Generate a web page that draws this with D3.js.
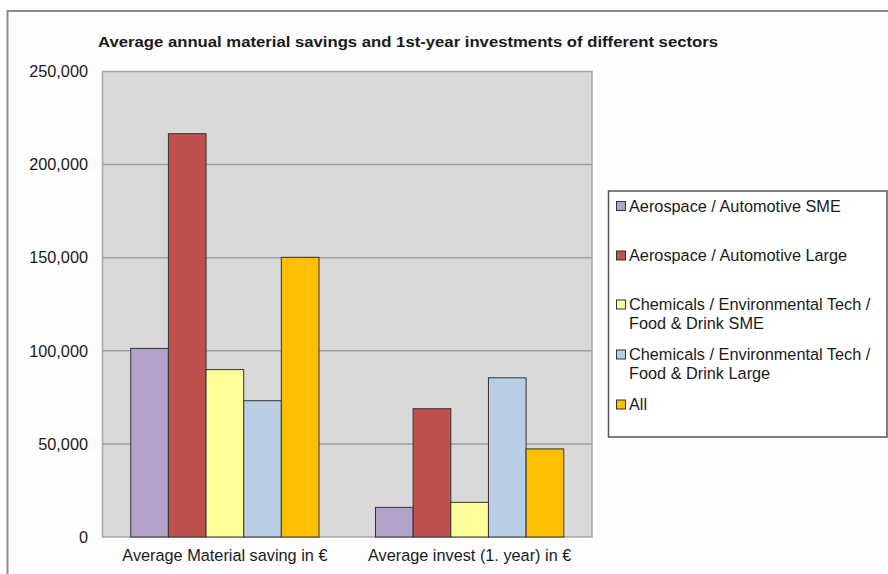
<!DOCTYPE html>
<html>
<head>
<meta charset="utf-8">
<script src="https://cdn.jsdelivr.net/npm/d3@7"></script>
<style>
  html, body { margin: 0; padding: 0; background: #ffffff; }
  svg { display: block; }
  text { font-family: "Liberation Sans", Arial, sans-serif; fill: #1a1a1a; }
</style>
</head>
<body>
<svg id="chart" width="888" height="574"></svg>
<script>
// Chart data
const categories = ["Average Material saving in \u20ac", "Average invest (1. year) in \u20ac"];
const seriesNames = [
  "Aerospace / Automotive SME",
  "Aerospace / Automotive Large",
  "Chemicals / Environmental Tech / Food & Drink SME",
  "Chemicals / Environmental Tech / Food & Drink Large",
  "All"
];
const legendLines = [
  ["Aerospace / Automotive SME"],
  ["Aerospace / Automotive Large"],
  ["Chemicals / Environmental Tech /", "Food & Drink SME"],
  ["Chemicals / Environmental Tech /", "Food & Drink Large"],
  ["All"]
];
// values per series: [material saving, 1st-year invest]
const aeroSME    = [101300, 15900];
const aeroLarge  = [216600, 68900];
const chemSME    = [89900, 18600];
const chemLarge  = [73200, 85500];
const allSectors = [150200, 47300];
const seriesValues = [aeroSME, aeroLarge, chemSME, chemLarge, allSectors];
const seriesColors = ["#b3a2c7", "#c0504d", "#ffff99", "#b9cde5", "#ffc000"];
const yTicks = [0, 50000, 100000, 150000, 200000, 250000];
const titleText = "Average annual material savings and 1st-year investments of different sectors";

const labelSize = 16.3;
const svg = d3.select("#chart");

// outer chart frame
svg.append("rect")
  .attr("x", 7.5).attr("y", 11)
  .attr("width", 900).attr("height", 600)
  .attr("fill", "#fdfdfd")
  .attr("stroke", "#8a8a8a").attr("stroke-width", 2);

// title
svg.append("text")
  .attr("x", 98).attr("y", 47)
  .attr("font-size", 15).attr("font-weight", "bold")
  .attr("textLength", 620).attr("lengthAdjust", "spacingAndGlyphs")
  .text(titleText);

const plot = { left: 102.5, top: 71.5, right: 592, bottom: 537 };

const x0 = d3.scaleBand()
  .domain(d3.range(categories.length))
  .range([plot.left, plot.right])
  .paddingInner(0).paddingOuter(0);

// bars occupy 5 of 6.5 slots in each category (150% gap)
const groupWidth = x0.bandwidth() * 5 / 6.5;
const x1 = d3.scaleBand()
  .domain(d3.range(seriesNames.length))
  .range([0, groupWidth]);

const y = d3.scaleLinear().domain([0, 250000]).range([plot.bottom, plot.top]);

// plot background
svg.append("rect")
  .attr("x", plot.left).attr("y", plot.top)
  .attr("width", plot.right - plot.left).attr("height", plot.bottom - plot.top)
  .attr("fill", "#d9d9d9")
  .attr("stroke", "#a6a6a6").attr("stroke-width", 1.5);

// gridlines
svg.append("g")
  .selectAll("line")
  .data(yTicks.filter(d => d > 0 && d < 250000))
  .join("line")
  .attr("x1", plot.left).attr("x2", plot.right)
  .attr("y1", d => y(d)).attr("y2", d => y(d))
  .attr("stroke", "#a0a0a0").attr("stroke-width", 1.5);

// y axis labels
const yAxis = d3.axisLeft(y)
  .tickValues(yTicks)
  .tickSize(0)
  .tickPadding(14.5)
  .tickFormat(d3.format(","));
const gy = svg.append("g")
  .attr("transform", `translate(${plot.left},0)`)
  .call(yAxis);
gy.select(".domain").remove();
gy.selectAll("text")
  .attr("font-size", labelSize)
  .attr("font-family", "Liberation Sans, Arial, sans-serif")
  .attr("fill", "#1a1a1a");

// bars
const groups = svg.append("g")
  .selectAll("g")
  .data(seriesValues)
  .join("g")
  .attr("fill", (d, i) => seriesColors[i]);

groups.selectAll("rect")
  .data((vals, si) => vals.map((v, ci) => ({ v, ci, si })))
  .join("rect")
  .attr("x", d => x0(d.ci) + (x0.bandwidth() - groupWidth) / 2 + x1(d.si))
  .attr("y", d => y(d.v))
  .attr("width", x1.bandwidth())
  .attr("height", d => plot.bottom - y(d.v))
  .attr("stroke", "#333333").attr("stroke-width", 1);

// x axis labels
const xAxis = d3.axisBottom(x0)
  .tickSize(0)
  .tickPadding(12)
  .tickFormat(i => categories[i]);
const gx = svg.append("g")
  .attr("transform", `translate(0,${plot.bottom})`)
  .call(xAxis);
gx.select(".domain").remove();
gx.selectAll("text")
  .attr("font-size", labelSize)
  .attr("font-family", "Liberation Sans, Arial, sans-serif")
  .attr("fill", "#1a1a1a");

// legend
const legend = svg.append("g");
legend.append("rect")
  .attr("x", 608.5).attr("y", 191)
  .attr("width", 278.5).attr("height", 246)
  .attr("fill", "#ffffff")
  .attr("stroke", "#555555").attr("stroke-width", 1.5);

const rowY = [206, 255.5, 304.5, 354.5, 404.5];
const items = legend.selectAll("g.item")
  .data(seriesNames)
  .join("g")
  .attr("class", "item");

items.append("rect")
  .attr("x", 616.5)
  .attr("y", (d, i) => rowY[i] - 4.5)
  .attr("width", 9).attr("height", 9)
  .attr("fill", (d, i) => seriesColors[i])
  .attr("stroke", "#333333").attr("stroke-width", 1);

items.each(function (d, i) {
  const g = d3.select(this);
  legendLines[i].forEach((line, li) => {
    g.append("text")
      .attr("x", 629)
      .attr("y", rowY[i] + li * 19)
      .attr("dy", "0.35em")
      .attr("font-size", labelSize)
      .text(line);
  });
});
</script>
</body>
</html>
